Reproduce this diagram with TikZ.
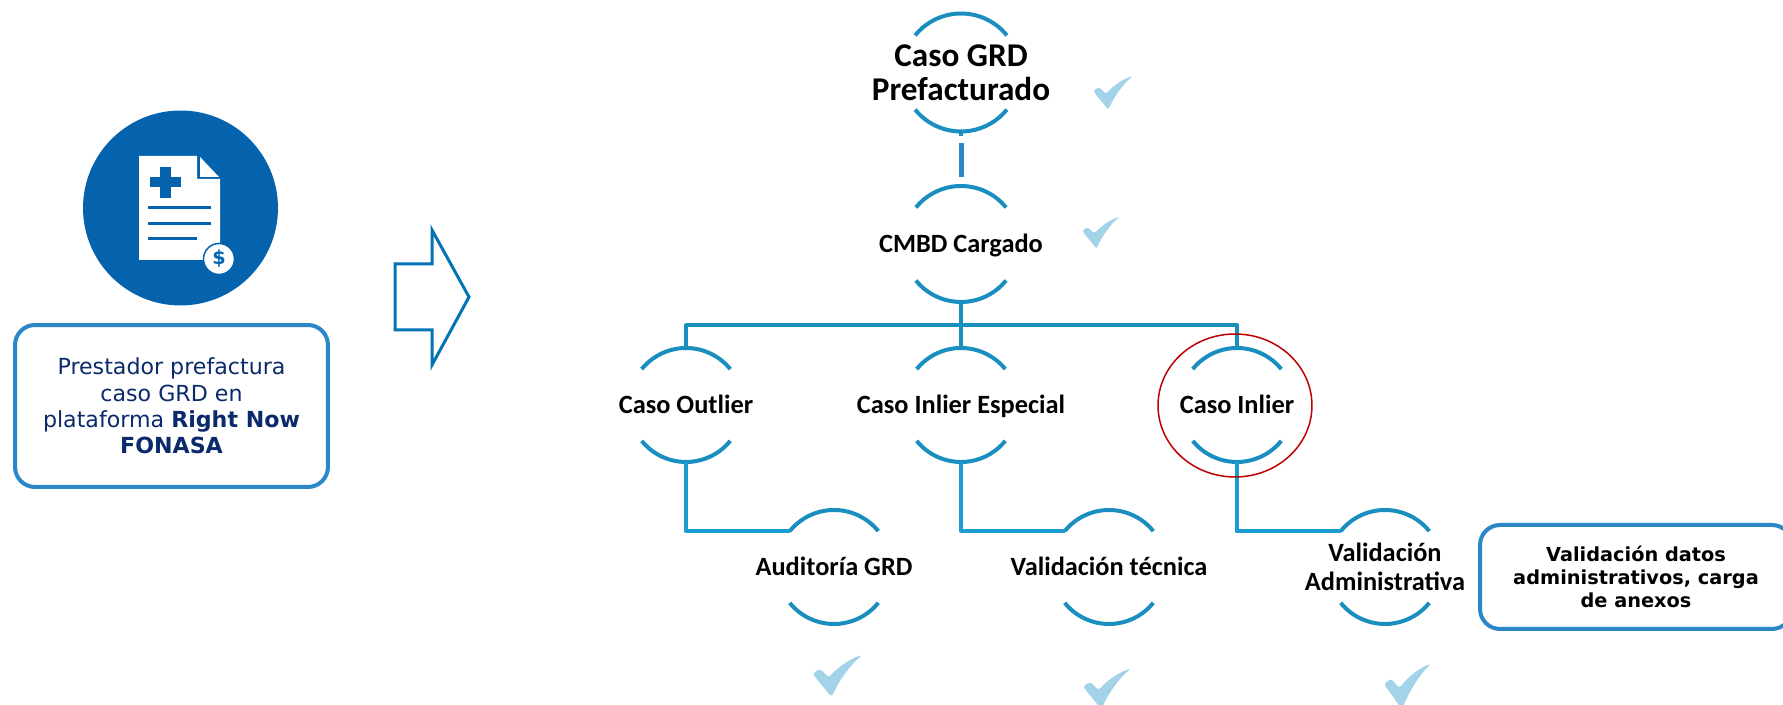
\documentclass[tikz,border=0pt]{standalone}
\usepackage{fontspec}
\usetikzlibrary{shapes.geometric}
\setmainfont{Carlito}
\newfontfamily\verdanafont{DejaVu Sans}
\definecolor{arcteal}{HTML}{1A8FBF}
\definecolor{lowteal}{HTML}{1C9DD2}
\definecolor{boxblue}{HTML}{2B87C8}
\definecolor{iconblue}{HTML}{0563AE}
\definecolor{navytext}{HTML}{0B2A6B}
\definecolor{tickblue}{HTML}{A3D3E8}
\tikzset{
  stage/.style={align=center, font=\fontsize{15}{16.6}\selectfont\bfseries, inner sep=0pt},
  oneline/.style={stage, text height=12pt, text depth=2pt},
  arcline/.style={draw=arcteal, line width=0.08cm},
  lowline/.style={draw=lowteal, line width=0.09cm, line join=round},
  notebox/.style={draw=boxblue, line width=0.08cm, rounded corners=0.4cm, align=center},
  tick/.pic={\fill[tickblue, rounded corners=1.5] (0,17) -- (6,21) -- (13,14) .. controls (20,22) and (30,29) .. (40,32)
    .. controls (30,24) and (22,12) .. (17,2) .. controls (16,0) and (14,0) .. (13,1) -- cycle;}
}
\begin{document}
\begin{tikzpicture}[x=0.02cm, y=0.02cm]
  \useasboundingbox (0,0) rectangle (1783,705);

  % left side
  \node[circle, fill=iconblue, minimum size=3.9cm, inner sep=0pt] (icon) at (180.5,497) {};
  \fill[white] (139,549) -- (197,549) -- (197,526) -- (220,526) -- (220,445) -- (139,445) -- cycle;
  \fill[white] (200,548) -- (219,528) -- (200,528) -- cycle;
  \fill[iconblue] (160,538) rectangle (171,507);
  \fill[iconblue] (150,528) rectangle (181,518);
  \draw[iconblue, line width=0.06cm] (148,497) -- (211,497) (148,481) -- (211,481) (148,466) -- (197,466);
  \node[circle, fill=white, draw=iconblue, line width=0.03cm, minimum size=0.62cm, inner sep=0pt, text=iconblue,
    font=\verdanafont\bfseries\fontsize{11}{11}\selectfont] (dollar) at (219,446) {\$};
  \node[notebox, minimum width=6.26cm, minimum height=3.24cm, text=navytext,
    font=\verdanafont\fontsize{12.6}{14.9}\selectfont] (prestador) at (171.5,299)
    {Prestador prefactura\\caso GRD en\\plataforma \textbf{Right Now}\\\textbf{FONASA}};
  \draw[draw=iconblue!90!cyan, line width=0.06cm, miter limit=10] (395,441) -- (432,441) -- (432,475) -- (469,408)
    -- (432,340) -- (432,375) -- (395,375) -- cycle;

  % stages
  \node[stage, font=\fontsize{18.9}{19.6}\selectfont\bfseries] (prefact) at (961,632.5) {Caso GRD\\Prefacturado};
  \node[oneline] (cmbd) at (961,461) {CMBD Cargado};
  \node[oneline] (outlier) at (686,300) {Caso Outlier};
  \node[oneline] (especial) at (961,300) {Caso Inlier Especial};
  \node[oneline] (inlier) at (1237,300) {Caso Inlier};
  \node[oneline] (auditoria) at (834,138) {Auditoría GRD};
  \node[oneline] (tecnica) at (1109,138) {Validación técnica};
  \node[stage] (admin) at (1385,138) {Validación\\Administrativa};

  \foreach \n/\r in {prefact/59, cmbd/58, outlier/57, especial/57, inlier/57, auditoria/57, tecnica/57, admin/57} {
    \draw[arcline] ([shift={(39:\r)}]\n.center) arc[start angle=39, end angle=141, radius=\r];
    \draw[arcline] ([shift={(-141:\r)}]\n.center) arc[start angle=-141, end angle=-39, radius=\r];
    \coordinate (\n-top) at ([shift={(90:\r)}]\n.center);
    \coordinate (\n-bot) at ([shift={(-90:\r)}]\n.center);
    \coordinate (\n-left) at ([shift={(141:\r)}]\n.center);
  }

  % connectors
  \coordinate (gapa) at (961,569);
  \coordinate (gapb) at (961,562);
  \coordinate (gapc) at (961,528);
  \coordinate (bus) at (961,380);
  \draw[arcline] (prefact-bot) -- (gapa);
  \draw[draw=boxblue, line width=0.1cm] (gapb) -- (gapc);
  \draw[arcline, line join=round] (outlier-top) |- (bus) -| (inlier-top);
  \draw[arcline] (cmbd-bot) -- (especial-top);
  \draw[lowline] (outlier-bot) |- (auditoria-left);
  \draw[lowline] (especial-bot) |- (tecnica-left);
  \draw[lowline] (inlier-bot) |- (admin-left);

  \node[draw=red!75!black, line width=0.03cm, ellipse, minimum width=3.08cm, minimum height=2.86cm] (mark) at (1235,299.5) {};
  \node[notebox, minimum width=6.24cm, minimum height=2.08cm,
    font=\verdanafont\bfseries\fontsize{11}{13.3}\selectfont] (validacion) at (1636,128)
    {Validación datos\\administrativos, carga\\de anexos};

  % ticks
  \pic at (1093,597) {tick};
  \pic[scale=0.95] at (1082,458) {tick};
  \pic[scale=1.25] at (812.5,10) {tick};
  \pic[scale=1.2] at (1083,-2) {tick};
  \pic[xscale=1.18, yscale=1.35] at (1384,-2) {tick};
\end{tikzpicture}
\end{document}
